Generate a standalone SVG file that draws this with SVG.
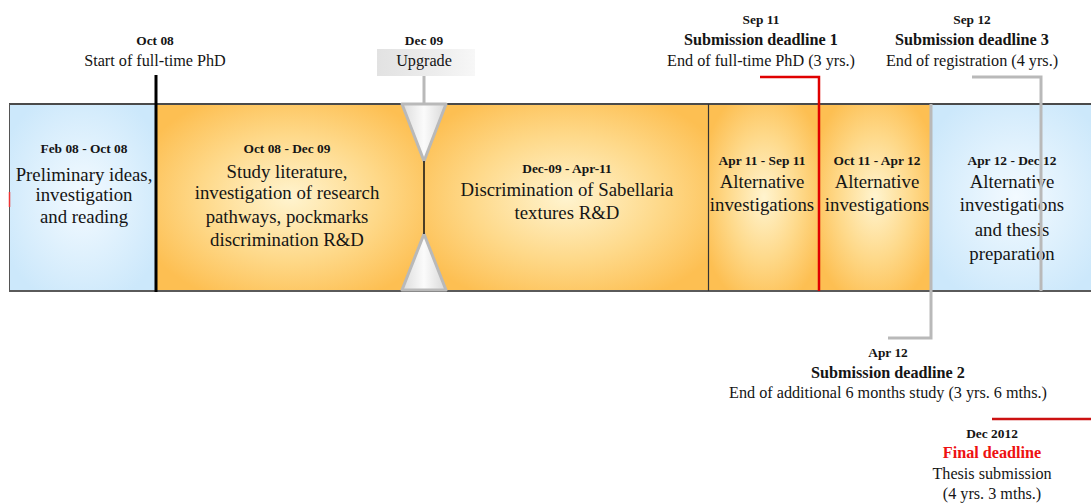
<svg xmlns="http://www.w3.org/2000/svg" width="1091" height="504" viewBox="0 0 1091 504">
<defs>
<radialGradient id="gOrange" cx="50%" cy="50%" r="60%">
<stop offset="0" stop-color="#fff4cf"/>
<stop offset="0.55" stop-color="#fed98a"/>
<stop offset="1" stop-color="#fdbf52"/>
</radialGradient>
<radialGradient id="gBlue" cx="50%" cy="50%" r="60%">
<stop offset="0" stop-color="#f3faff"/>
<stop offset="1" stop-color="#cce8fb"/>
</radialGradient>
<linearGradient id="gTri" x1="0" y1="0" x2="1" y2="0">
<stop offset="0" stop-color="#dcdcdc"/>
<stop offset="0.5" stop-color="#fbfbfb"/>
<stop offset="1" stop-color="#d8d8d8"/>
</linearGradient>
<linearGradient id="gBox" x1="0" y1="0" x2="1" y2="0">
<stop offset="0" stop-color="#e2e2e2"/>
<stop offset="0.6" stop-color="#ededed"/>
<stop offset="1" stop-color="#f7f7f7"/>
</linearGradient>
</defs>
<style>
text{font-family:"Liberation Serif","Times New Roman",serif;fill:#151515;text-anchor:middle}
.h{font-weight:bold;font-size:13.4px}
.m{font-size:18.8px}
.s{font-size:16.2px}
.b{font-weight:bold;font-size:16.2px}
.red{fill:#ee1111}
.gl{stroke:#b9b9b9;stroke-width:3;fill:none}
.rl{stroke:#e00000;stroke-width:2.5;fill:none}
</style>

<!-- bar segments -->
<g id="seg1">
<rect x="9" y="104" width="147" height="187" fill="url(#gBlue)"/>
<text class="h" x="84" y="153">Feb 08 - Oct 08</text>
<text class="m" x="84" y="181">Preliminary ideas,</text>
<text class="m" x="84" y="201">investigation</text>
<text class="m" x="84" y="223">and reading</text>
</g>
<g id="seg2">
<rect x="156" y="104" width="268" height="187" fill="url(#gOrange)"/>
<text class="h" x="287" y="153">Oct 08 - Dec 09</text>
<text class="m" x="287" y="178">Study literature,</text>
<text class="m" x="287" y="199">investigation of research</text>
<text class="m" x="287" y="223">pathways, pockmarks</text>
<text class="m" x="287" y="246">discrimination R&amp;D</text>
</g>
<g id="seg3">
<rect x="424" y="104" width="285" height="187" fill="url(#gOrange)"/>
<text class="h" x="567" y="173">Dec-09 - Apr-11</text>
<text class="m" x="567" y="196">Discrimination of Sabellaria</text>
<text class="m" x="567" y="219">textures R&amp;D</text>
</g>
<g id="seg4">
<rect x="709" y="104" width="110" height="187" fill="url(#gOrange)"/>
<text class="h" x="762" y="165">Apr 11 - Sep 11</text>
<text class="m" x="762" y="188">Alternative</text>
<text class="m" x="762" y="211">investigations</text>
</g>
<g id="seg5">
<rect x="819" y="104" width="112" height="187" fill="url(#gOrange)"/>
<text class="h" x="877" y="165">Oct 11 - Apr 12</text>
<text class="m" x="877" y="188">Alternative</text>
<text class="m" x="877" y="211">investigations</text>
</g>
<g id="seg6">
<rect x="931" y="104" width="170" height="187" fill="url(#gBlue)"/>
<text class="h" x="1012" y="165">Apr 12 - Dec 12</text>
<text class="m" x="1012" y="188">Alternative</text>
<text class="m" x="1012" y="211">investigations</text>
<text class="m" x="1012" y="236">and thesis</text>
<text class="m" x="1012" y="260">preparation</text>
</g>

<g id="barframe">
<line x1="9" y1="104" x2="1091" y2="104" stroke="#4a4a4a" stroke-width="2"/>
<line x1="9" y1="291" x2="1091" y2="291" stroke="#5a5a5a" stroke-width="2"/>
<line x1="9.5" y1="104" x2="9.5" y2="291" stroke="#555" stroke-width="1"/>
<line x1="9.5" y1="192" x2="9.5" y2="207" stroke="#ee3333" stroke-width="1.5"/>
<line x1="708.5" y1="104" x2="708.5" y2="291" stroke="#333" stroke-width="1.2"/>
</g>

<!-- milestones -->
<g id="m-start">
<text class="h" x="155" y="45">Oct 08</text>
<text class="s" x="155" y="66">Start of full-time PhD</text>
</g>
<g id="m-upgrade">
<rect x="377" y="49" width="98" height="27" fill="url(#gBox)"/>
<text class="h" x="424" y="45">Dec 09</text>
<text class="s" x="424" y="66">Upgrade</text>
</g>
<g id="hourglass">
<polygon points="402,104 446,104 424,161" fill="url(#gTri)" stroke="#b9b9b9" stroke-width="3" stroke-linejoin="round"/>
<polygon points="424,234 446,290 402,290" fill="url(#gTri)" stroke="#b9b9b9" stroke-width="3" stroke-linejoin="round"/>
</g>
<g id="m-sd1">
<text class="h" x="761" y="24">Sep 11</text>
<text class="b" x="761" y="45">Submission deadline 1</text>
<text class="s" x="761" y="66">End of full-time PhD (3 yrs.)</text>
</g>
<g id="m-sd3">
<text class="h" x="972" y="24">Sep 12</text>
<text class="b" x="972" y="45">Submission deadline 3</text>
<text class="s" x="972" y="66">End of registration (4 yrs.)</text>
</g>
<g id="m-sd2">
<text class="h" x="888" y="357">Apr 12</text>
<text class="b" x="888" y="378">Submission deadline 2</text>
<text class="s" x="888" y="398">End of additional 6 months study (3 yrs. 6 mths.)</text>
</g>
<g id="m-final">
<text class="h" x="992" y="438">Dec 2012</text>
<text class="b red" x="992" y="458">Final deadline</text>
<text class="s" x="992" y="479">Thesis submission</text>
<text class="s" x="992" y="499">(4 yrs. 3 mths.)</text>
</g>

<!-- connectors -->
<g id="connectors">
<line x1="156" y1="75" x2="156" y2="292" stroke="#000" stroke-width="3"/>
<line x1="424" y1="76" x2="424" y2="104" class="gl"/>
<line x1="424" y1="161" x2="424" y2="234" stroke="#111" stroke-width="1.5"/>
<polyline points="760,77 819,77 819,291" class="rl"/>
<polyline points="972,77 1041,77 1041,291" class="gl"/>
<polyline points="931,104 931,338 888,338" class="gl"/>
<line x1="992" y1="419" x2="1091" y2="419" stroke="#cc1111" stroke-width="2.5"/>
</g>
</svg>
